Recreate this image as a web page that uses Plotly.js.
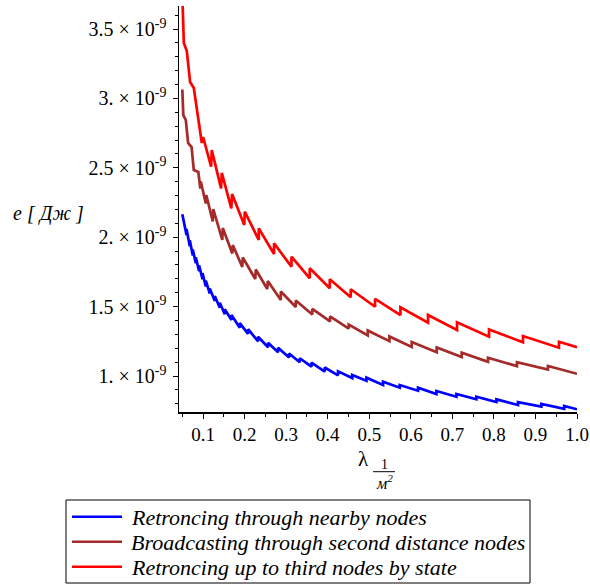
<!DOCTYPE html>
<html><head><meta charset="utf-8">
<script src="https://cdn.plot.ly/plotly-3.0.1.min.js"></script>
<style>html,body{margin:0;padding:0;background:#fff;} #chart{width:590px;height:585px;}</style>
</head><body><div id="chart"></div>
<script>
// ---- data ----
const seriesNames = [
  'Retroncing through nearby nodes',
  'Broadcasting through second distance nodes',
  'Retroncing up to third nodes by state'
];
const seriesColors = ['#0000ff', '#a52a2a', '#ff0000'];

// lambda, 1/m^2
const blueX = [0.05, 0.0601, 0.0601, 0.068, 0.068, 0.0752, 0.0752, 0.0824, 0.0824, 0.0904, 0.0904, 0.0986, 0.0986, 0.1065, 0.1065, 0.1161, 0.1161, 0.1282, 0.1282, 0.1402, 0.1402, 0.1522, 0.1522, 0.1683, 0.1683, 0.1883, 0.1883, 0.2083, 0.2083, 0.2323, 0.2323, 0.2564, 0.2564, 0.2805, 0.2805, 0.3069, 0.3069, 0.3327, 0.3327, 0.3608, 0.3608, 0.3928, 0.3928, 0.4248, 0.4248, 0.459, 0.459, 0.4932, 0.4932, 0.5331, 0.5331, 0.5733, 0.5733, 0.6173, 0.6173, 0.6616, 0.6616, 0.7097, 0.7097, 0.7578, 0.7578, 0.806, 0.806, 0.858, 0.858, 0.9142, 0.9142, 0.9691, 0.9691, 1.0];
// energy, J
const blueY = [2.165e-9, 2.016e-9, 2.059e-9, 1.934e-9, 1.978e-9, 1.869e-9, 1.912e-9, 1.813e-9, 1.856e-9, 1.755e-9, 1.798e-9, 1.697e-9, 1.741e-9, 1.645e-9, 1.688e-9, 1.594e-9, 1.630e-9, 1.540e-9, 1.576e-9, 1.492e-9, 1.528e-9, 1.445e-9, 1.481e-9, 1.403e-9, 1.439e-9, 1.348e-9, 1.381e-9, 1.304e-9, 1.337e-9, 1.250e-9, 1.283e-9, 1.207e-9, 1.240e-9, 1.171e-9, 1.204e-9, 1.133e-9, 1.162e-9, 1.099e-9, 1.128e-9, 1.067e-9, 1.096e-9, 1.032e-9, 1.061e-9, 1.005e-9, 1.034e-9, 0.985e-9, 1.008e-9, 0.966e-9, 0.988e-9, 0.935e-9, 0.959e-9, 0.916e-9, 0.935e-9, 0.894e-9, 0.916e-9, 0.870e-9, 0.892e-9, 0.851e-9, 0.870e-9, 0.832e-9, 0.851e-9, 0.813e-9, 0.832e-9, 0.791e-9, 0.811e-9, 0.779e-9, 0.798e-9, 0.764e-9, 0.784e-9, 0.760e-9];

const brownX = [0.05, 0.0524, 0.0584, 0.0639, 0.0723, 0.0776, 0.0885, 0.0933, 0.0945, 0.1065, 0.1077, 0.1233, 0.1245, 0.1462, 0.1474, 0.1703, 0.1715, 0.1943, 0.1955, 0.2256, 0.2268, 0.2545, 0.2557, 0.287, 0.287, 0.3231, 0.3231, 0.3628, 0.3628, 0.4056, 0.4056, 0.4506, 0.4506, 0.4963, 0.4963, 0.5485, 0.5485, 0.6022, 0.6022, 0.6623, 0.6623, 0.7225, 0.7225, 0.7858, 0.7858, 0.8555, 0.8555, 0.9301, 0.9301, 1.0];
const brownY = [3.064e-9, 2.880e-9, 2.844e-9, 2.679e-9, 2.650e-9, 2.484e-9, 2.470e-9, 2.351e-9, 2.401e-9, 2.243e-9, 2.304e-9, 2.113e-9, 2.203e-9, 1.980e-9, 2.066e-9, 1.883e-9, 1.944e-9, 1.785e-9, 1.854e-9, 1.699e-9, 1.767e-9, 1.627e-9, 1.684e-9, 1.548e-9, 1.609e-9, 1.497e-9, 1.544e-9, 1.443e-9, 1.483e-9, 1.393e-9, 1.429e-9, 1.342e-9, 1.371e-9, 1.292e-9, 1.328e-9, 1.251e-9, 1.285e-9, 1.210e-9, 1.245e-9, 1.171e-9, 1.205e-9, 1.137e-9, 1.168e-9, 1.102e-9, 1.132e-9, 1.071e-9, 1.099e-9, 1.047e-9, 1.072e-9, 1.016e-9];

const redX = [0.05, 0.0536, 0.0608, 0.0687, 0.0776, 0.0969, 0.1, 0.1193, 0.1209, 0.1433, 0.145, 0.1679, 0.1698, 0.1991, 0.2003, 0.234, 0.234, 0.2708, 0.2708, 0.3127, 0.3127, 0.3567, 0.3567, 0.4049, 0.4049, 0.4554, 0.4554, 0.5139, 0.5139, 0.575, 0.575, 0.6414, 0.6414, 0.7112, 0.7112, 0.7882, 0.7882, 0.87, 0.87, 0.9566, 0.9566, 1.0];
const redY = [3.745e-9, 3.399e-9, 3.341e-9, 3.118e-9, 3.075e-9, 2.679e-9, 2.722e-9, 2.508e-9, 2.628e-9, 2.352e-9, 2.463e-9, 2.208e-9, 2.311e-9, 2.088e-9, 2.184e-9, 1.980e-9, 2.064e-9, 1.879e-9, 1.956e-9, 1.787e-9, 1.860e-9, 1.704e-9, 1.776e-9, 1.632e-9, 1.697e-9, 1.567e-9, 1.625e-9, 1.499e-9, 1.556e-9, 1.439e-9, 1.495e-9, 1.384e-9, 1.439e-9, 1.331e-9, 1.387e-9, 1.283e-9, 1.336e-9, 1.243e-9, 1.288e-9, 1.204e-9, 1.247e-9, 1.207e-9];

const xTickVals = [0.1, 0.2, 0.3, 0.4, 0.5, 0.6, 0.7, 0.8, 0.9, 1.0];
const xTickText = ['0.1', '0.2', '0.3', '0.4', '0.5', '0.6', '0.7', '0.8', '0.9', '1.0'];
const yTickVals = [1e-9, 1.5e-9, 2e-9, 2.5e-9, 3e-9, 3.5e-9];
const yTickText = ['1. × 10<sup>-9</sup>', '1.5 × 10<sup>-9</sup>', '2. × 10<sup>-9</sup>',
                   '2.5 × 10<sup>-9</sup>', '3. × 10<sup>-9</sup>', '3.5 × 10<sup>-9</sup>'];

// ---- drawing ----
const FONT = 'Liberation Serif, Times New Roman, serif';
const W = 590, H = 585;
const PL = 179, PR = 577, PT = 6, PB = 412;          // plot area in px
const px = v => (v - PL) / (PR - PL);                 // px -> paper x
const py = v => (PB - v) / (PB - PT);                 // px -> paper y

const seriesX = [blueX, brownX, redX];
const seriesY = [blueY, brownY, redY];
const traces = seriesNames.map((n, i) => ({
  type: 'scatter', mode: 'lines', name: n,
  x: seriesX[i], y: seriesY[i],
  line: {color: seriesColors[i], width: 2.7},
  hoverinfo: 'skip'
}));

const shapes = [
  // legend box
  {type: 'rect', xref: 'paper', yref: 'paper', x0: px(66), x1: px(530), y0: py(583), y1: py(500),
   line: {color: '#000', width: 1}, fillcolor: 'rgba(0,0,0,0)'},
  // fraction bar in x title
  {type: 'line', xref: 'paper', yref: 'paper', x0: px(373), x1: px(395), y0: py(471.7), y1: py(471.7),
   line: {color: '#000', width: 1}}
];
const legendRows = [516.7, 541.7, 566.7];
const annotations = [];
seriesNames.forEach((n, i) => {
  shapes.push({type: 'line', xref: 'paper', yref: 'paper', x0: px(72), x1: px(122),
               y0: py(legendRows[i]), y1: py(legendRows[i]),
               line: {color: seriesColors[i], width: 2.5}});
  annotations.push({xref: 'paper', yref: 'paper', x: px(129), y: py(legendRows[i] + 1),
                    xanchor: 'left', yanchor: 'middle', showarrow: false,
                    text: n, font: {family: FONT, size: 22, color: '#000', style: 'italic'}});
});
annotations.push(
  {xref: 'paper', yref: 'paper', x: px(11), y: py(213), xanchor: 'left', yanchor: 'middle',
   showarrow: false, text: 'e [ Дж ]', font: {family: FONT, size: 20, color: '#000', style: 'italic'}},
  {xref: 'paper', yref: 'paper', x: px(363.5), y: py(459), xanchor: 'center', yanchor: 'middle',
   showarrow: false, text: 'λ', font: {family: FONT, size: 21, color: '#000'}},
  {xref: 'paper', yref: 'paper', x: px(384), y: py(464.5), xanchor: 'center', yanchor: 'middle',
   showarrow: false, text: '1', font: {family: FONT, size: 14, color: '#000'}},
  {xref: 'paper', yref: 'paper', x: px(384), y: py(482), xanchor: 'center', yanchor: 'middle',
   showarrow: false, text: 'м<sup>2</sup>', font: {family: FONT, size: 16, color: '#000', style: 'italic'}}
);

const layout = {
  width: W, height: H,
  margin: {l: PL, r: W - PR, t: PT, b: H - PB, pad: 0},
  paper_bgcolor: '#fff', plot_bgcolor: '#fff',
  showlegend: false,
  font: {family: FONT, size: 18, color: '#000'},
  xaxis: {
    range: [0.042, 1.0], tickmode: 'array', tickvals: xTickVals, ticktext: xTickText,
    ticks: 'outside', ticklen: 5, tickwidth: 1, tickcolor: '#000',
    showline: true, linecolor: '#000', linewidth: 1.5, showgrid: false, zeroline: false,
    tickfont: {family: FONT, size: 19, color: '#000'},
    minor: {tickmode: 'linear', tick0: 0, dtick: 0.05, ticks: 'outside', ticklen: 3, tickwidth: 1, tickcolor: '#000', showgrid: false}
  },
  yaxis: {
    range: [0.7406e-9, 3.666e-9], tickmode: 'array', tickvals: yTickVals, ticktext: yTickText,
    ticks: 'outside', ticklen: 5, tickwidth: 1, tickcolor: '#000',
    showline: true, linecolor: '#000', linewidth: 1.5, showgrid: false, zeroline: false,
    tickfont: {family: FONT, size: 20, color: '#000'}, ticklabelstandoff: 2,
    minor: {tickmode: 'linear', tick0: 0, dtick: 1e-10, ticks: 'outside', ticklen: 3, tickwidth: 1, tickcolor: '#000', showgrid: false}
  },
  shapes: shapes,
  annotations: annotations
};

Plotly.newPlot('chart', traces, layout, {staticPlot: true, displayModeBar: false});
</script>
</body></html>
